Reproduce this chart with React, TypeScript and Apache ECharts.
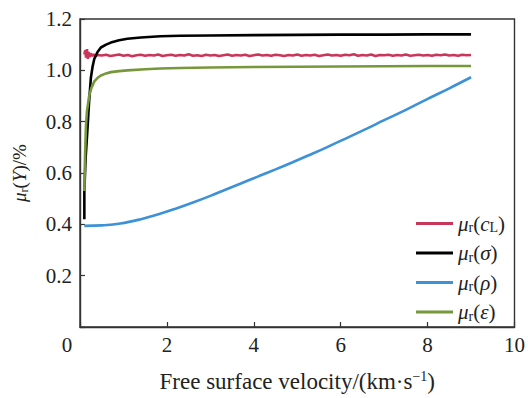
import React, { useEffect, useRef } from "react";
import * as echarts from "echarts";

const FONT = "Liberation Serif, Times New Roman, serif";

const xTicks = [0, 2, 4, 6, 8, 10];
const yTicks = [0, 0.2, 0.4, 0.6, 0.8, 1.0, 1.2];

const seriesNames = ["cL", "sigma", "rho", "eps"];
const seriesColors = ["#c8375a", "#000000", "#3d91d6", "#76983a"];

const redData: [number, number][] = [
  [0.1, 1.062], [0.12, 1.078], [0.14, 1.05], [0.16, 1.083], [0.18, 1.045], [0.2, 1.072],
  [0.22, 1.052], [0.25, 1.066], [0.28, 1.056], [0.32, 1.062], [0.36, 1.055], [0.4, 1.06],
  [0.5, 1.058], [0.6, 1.061], [0.7, 1.056], [0.8, 1.059], [0.9, 1.062], [1.0, 1.057],
  [1.1, 1.06], [1.2, 1.055], [1.3, 1.059], [1.4, 1.061], [1.5, 1.057], [1.6, 1.06],
  [1.7, 1.058], [1.8, 1.062], [1.9, 1.056], [2.0, 1.059], [2.1, 1.061], [2.2, 1.057],
  [2.3, 1.06], [2.4, 1.058], [2.5, 1.063], [2.6, 1.057], [2.7, 1.059], [2.8, 1.056],
  [2.9, 1.061], [3.0, 1.058], [3.1, 1.06], [3.2, 1.056], [3.3, 1.059], [3.4, 1.062],
  [3.5, 1.057], [3.6, 1.06], [3.7, 1.058], [3.8, 1.061], [3.9, 1.056], [4.0, 1.059],
  [4.1, 1.062], [4.2, 1.058], [4.3, 1.06], [4.4, 1.057], [4.5, 1.061], [4.6, 1.059],
  [4.7, 1.056], [4.8, 1.06], [4.9, 1.058], [5.0, 1.062], [5.1, 1.057], [5.2, 1.06],
  [5.3, 1.058], [5.4, 1.061], [5.5, 1.056], [5.6, 1.059], [5.7, 1.062], [5.8, 1.058],
  [5.9, 1.06], [6.0, 1.057], [6.1, 1.061], [6.2, 1.059], [6.3, 1.063], [6.4, 1.057],
  [6.5, 1.06], [6.6, 1.058], [6.7, 1.062], [6.8, 1.056], [6.9, 1.06], [7.0, 1.059],
  [7.1, 1.061], [7.2, 1.057], [7.3, 1.06], [7.4, 1.058], [7.5, 1.062], [7.6, 1.057],
  [7.7, 1.059], [7.8, 1.061], [7.9, 1.058], [8.0, 1.06], [8.1, 1.057], [8.2, 1.061],
  [8.3, 1.059], [8.4, 1.062], [8.5, 1.058], [8.6, 1.06], [8.7, 1.057], [8.8, 1.061],
  [8.9, 1.059], [9.0, 1.06],
];

const blackData: [number, number][] = [
  [0.1, 0.42], [0.1, 0.53], [0.13, 0.66], [0.175, 0.78], [0.21, 0.88], [0.25, 0.97],
  [0.29, 1.015], [0.33, 1.045], [0.4, 1.07], [0.48, 1.089], [0.6, 1.1], [0.71, 1.108],
  [0.9, 1.117], [1.09, 1.123], [1.4, 1.128], [1.85, 1.133], [2.3, 1.135], [3, 1.136],
  [4, 1.137], [5, 1.138], [6, 1.139], [7, 1.139], [8, 1.14], [9, 1.14],
];

const blueData: [number, number][] = [
  [0.1, 0.394], [0.5, 0.396], [0.93, 0.403], [1.4, 0.42], [1.84, 0.441], [2.2, 0.461],
  [2.6, 0.485], [3.0, 0.511], [3.36, 0.536], [3.7, 0.559], [4.12, 0.588], [4.5, 0.614],
  [4.88, 0.641], [5.25, 0.668], [5.64, 0.697], [6.16, 0.738], [6.6, 0.773], [7.0, 0.806],
  [7.5, 0.846], [7.98, 0.887], [8.5, 0.93], [9.0, 0.973],
];

const greenData: [number, number][] = [
  [0.1, 0.53], [0.115, 0.66], [0.136, 0.78], [0.16, 0.84], [0.21, 0.9], [0.26, 0.93],
  [0.33, 0.957], [0.4, 0.97], [0.48, 0.98], [0.6, 0.988], [0.71, 0.993], [0.9, 0.997],
  [1.09, 1.0], [1.5, 1.004], [1.85, 1.007], [2.3, 1.009], [3, 1.011], [4, 1.013],
  [5, 1.014], [6, 1.015], [7, 1.016], [8, 1.017], [9, 1.017],
];

const legendLabels: Record<string, string> = {
  cL: "{i|μ}{s|r}{n|(}{i|c}{s|L}{n|)}",
  sigma: "{i|μ}{s|r}{n|(}{i|σ}{n|)}",
  rho: "{i|μ}{s|r}{n|(}{i|ρ}{n|)}",
  eps: "{i|μ}{s|r}{n|(}{i|ε}{n|)}",
};

const TXT = "#222";

function richSet(size: number, sub: number, lh: number) {
  return {
    n: { fontFamily: FONT, fontSize: size, color: TXT, lineHeight: lh },
    i: { fontFamily: FONT, fontSize: size, fontStyle: "italic", color: TXT, lineHeight: lh },
    s: { fontFamily: FONT, fontSize: sub, color: TXT, lineHeight: sub, verticalAlign: "bottom" },
    sup: { fontFamily: FONT, fontSize: sub, color: TXT, lineHeight: sub, verticalAlign: "top" },
  };
}

export default function App() {
  const ref = useRef<HTMLDivElement>(null);
  useEffect(() => {
    if (!ref.current) return;
    const chart = echarts.init(ref.current, undefined, { renderer: "svg" });
    const dataSets = [redData, blackData, blueData, greenData];
    chart.setOption({
      animation: false,
      backgroundColor: "#fff",
      grid: {
        left: 80,
        right: 10,
        top: 19,
        bottom: 62,
        show: true,
        borderColor: "#333",
        borderWidth: 1.4,
        containLabel: false,
      },
      legend: {
        orient: "vertical",
        left: 416,
        top: 213,
        padding: 0,
        itemWidth: 37,
        itemHeight: 3,
        itemGap: 8,
        icon: "rect",
        data: seriesNames,
        formatter: (name: string) => legendLabels[name],
        textStyle: { fontFamily: FONT, fontSize: 21, color: TXT, rich: richSet(21, 14, 22) },
      },
      xAxis: {
        type: "value",
        min: xTicks[0],
        max: xTicks[xTicks.length - 1],
        interval: 2,
        axisLine: { show: true, lineStyle: { color: "#333", width: 1.4 } },
        axisTick: { show: true, inside: true, length: 5, lineStyle: { color: "#333", width: 1.2 } },
        splitLine: { show: false },
        axisLabel: {
          margin: 7,
          fontFamily: FONT,
          fontSize: 21,
          color: TXT,
          formatter: (v: number) => (v === 0 ? "{z|0}" : String(v)),
          rich: {
            z: { fontFamily: FONT, fontSize: 21, color: TXT, padding: [0, 26, 0, 0] },
          },
        },
        name: "{n|Free surface velocity/(km·s}{sup|−1}{n|)}",
        nameLocation: "middle",
        nameGap: 42,
        nameTextStyle: { fontFamily: FONT, fontSize: 23, color: TXT, rich: richSet(23, 14, 25) },
      },
      yAxis: {
        type: "value",
        min: yTicks[0],
        max: yTicks[yTicks.length - 1],
        interval: 0.2,
        axisLine: { show: true, lineStyle: { color: "#333", width: 1.4 } },
        axisTick: { show: true, inside: true, length: 5, lineStyle: { color: "#333", width: 1.2 } },
        splitLine: { show: false },
        axisLabel: {
          margin: 8,
          fontFamily: FONT,
          fontSize: 21,
          color: TXT,
          formatter: (v: number) => (v === 0 ? "" : v.toFixed(1)),
        },
        name: "{i|μ}{s|r}{n|(}{i|Y}{n|)/%}",
        nameLocation: "middle",
        nameRotate: 90,
        nameGap: 50,
        nameTextStyle: { fontFamily: FONT, fontSize: 19, color: TXT, rich: richSet(19, 12, 22) },
      },
      series: seriesNames.map((name, k) => ({
        name,
        type: "line",
        data: dataSets[k],
        showSymbol: false,
        symbol: "none",
        smooth: name === "rho" ? 0.4 : false,
        color: seriesColors[k],
        lineStyle: { color: seriesColors[k], width: 2.6 },
        z: 2 + k,
      })),
    });
    return () => chart.dispose();
  }, []);
  return (
    <div
      ref={ref}
      style={{ position: "fixed", left: 0, top: 0, width: 528, height: 398 }}
    />
  );
}
